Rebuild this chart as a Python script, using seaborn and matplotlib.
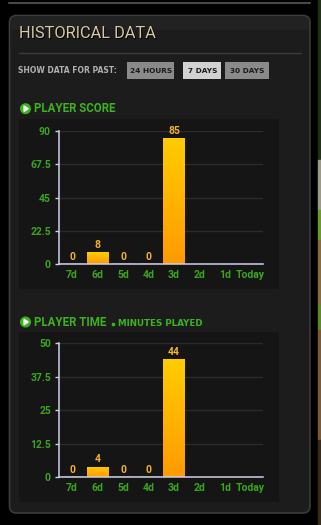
import numpy as np
import pandas as pd
import matplotlib
matplotlib.use("Agg")
import matplotlib.pyplot as plt
from matplotlib.patches import FancyBboxPatch, Rectangle, Circle, Polygon
from matplotlib.colors import LinearSegmentedColormap
import seaborn as sns

# ---- data ----
days = ["7d", "6d", "5d", "4d", "3d", "2d", "1d", "Today"]
player_score = [0, 8, 0, 0, 85, np.nan, np.nan, np.nan]
player_time = [0, 4, 0, 0, 44, np.nan, np.nan, np.nan]
score_ticks = [0, 22.5, 45, 67.5, 90]
time_ticks = [0, 12.5, 25, 37.5, 50]
range_buttons = ["24 HOURS", "7 DAYS", "30 DAYS"]
selected_button = "7 DAYS"

sns.set_theme(style="dark")
plt.rcParams['font.family'] = ['Roboto', 'DejaVu Sans']
DJ = ['DejaVu Sans']

W, H = 321, 525
fig = plt.figure(figsize=(W / 100, H / 100), dpi=100, facecolor="black")

# ---- background / decoration axes in pixel coords ----
bg = fig.add_axes([0, 0, 1, 1], zorder=-5)
bg.set_xlim(0, W)
bg.set_ylim(H, 0)
bg.axis("off")
bg.set_facecolor("black")
bg.add_patch(Rectangle((0, 0), W, H, color="black", zorder=0))

# right background strip
strip = [(0, 160, "#1e3314"), (160, 210, "#9c9a86"), (210, 240, "#6a9a2c"),
         (240, 305, "#8a6a3c"), (305, 330, "#5c8a2a"), (330, 440, "#7a5a32"),
         (440, 525, "#3a2a18")]
for y0, y1, c in strip:
    bg.add_patch(Rectangle((318, y0), 3, y1 - y0, color=c, zorder=1))

# top line
bg.plot([9, 310], [3.3, 3.3], color="#484848", lw=1.5, zorder=1)

# panel
bg.add_patch(FancyBboxPatch((9.5, 15.5), 300.5, 497.5,
                            boxstyle="round,pad=0,rounding_size=7",
                            facecolor="#1c1c1c", edgecolor="#3c3c3c", lw=1.2, zorder=1))
bg.add_patch(FancyBboxPatch((10.5, 16.5), 298.5, 34,
                            boxstyle="round,pad=0,rounding_size=6",
                            facecolor="#222222", edgecolor="none", zorder=1.5))
bg.add_patch(Rectangle((10.5, 30), 298.5, 21, facecolor="#1c1c1c", edgecolor="none", zorder=1.6))

# header
bg.text(20, 34.8, "HISTORICAL DATA", fontsize=11.8, color="black",
        va="center", ha="left", zorder=2)
bg.text(19, 33.8, "HISTORICAL DATA", fontsize=11.8, color="#d9c8a4",
        va="center", ha="left", zorder=3)
bg.plot([19, 301], [52.5, 52.5], color="#3c3c3c", lw=1, zorder=2)

bg.text(18, 70.5, "SHOW DATA FOR PAST:", fontsize=5.5, fontweight="bold",
        family=DJ, color="#b0b0b0", va="center", ha="left", zorder=3)
btn_boxes = [(127, 174), (183, 221), (225, 269)]
for label, (x0, x1) in zip(range_buttons, btn_boxes):
    fc = "#d2d2d2" if label == selected_button else "#8a8a8a"
    bg.add_patch(Rectangle((x0, 62.3), x1 - x0, 16.7, facecolor=fc, edgecolor="none", zorder=2))
    bg.text((x0 + x1) / 2 + 0.5, 71, label, fontsize=5.3, fontweight="bold", family=DJ,
            color="#1a1a1a", va="center", ha="center", zorder=3)

GREEN = "#3db31f"


def section_title(y, title, sub=None):
    bg.add_patch(Circle((25.5, y), 4.8, color=GREEN, zorder=3))
    bg.add_patch(Polygon([[24, y - 2.8], [24, y + 2.8], [28.3, y]], closed=True,
                         color="#f0f0f0", zorder=4))
    bg.text(34.5, y + 0.3, title, fontsize=8.3, fontweight="bold", color=GREEN,
            va="center", ha="left", zorder=3)
    if sub:
        bg.add_patch(Rectangle((111.5, y + 0.5), 2.5, 2.5, color=GREEN, zorder=3))
        bg.text(118.5, y + 1.2, sub, fontsize=6.3, fontweight="bold", family=DJ,
                color=GREEN, va="center", ha="left", zorder=3)


section_title(108.7, "PLAYER SCORE")
section_title(322, "PLAYER TIME", "MINUTES PLAYED")

# chart boxes
bg.add_patch(Rectangle((19, 119), 260, 170, facecolor="#151515", edgecolor="none", zorder=2))
bg.add_patch(Rectangle((19, 332), 260, 170, facecolor="#151515", edgecolor="none", zorder=2))

cmap = LinearSegmentedColormap.from_list("bar", ["#ff9a00", "#ffcc00"])
AXC = "#cfd0ea"
TICKC = "#3aa61e"
LABC = "#f2b22e"


def draw_chart(rect_px, values, yticks):
    left, top, right, bottom = rect_px
    ax = fig.add_axes([left / W, 1 - bottom / H, (right - left) / W, (bottom - top) / H])
    ax.patch.set_alpha(0)
    df = pd.DataFrame({"day": days, "value": values})
    sns.barplot(data=df, x="day", y="value", order=days, ax=ax, width=0.86,
                errorbar=None, color="#ffb400", saturation=1)
    ax.set_xlim(-0.5, len(days) - 0.5)
    ax.set_ylim(yticks[0], yticks[-1])
    # gradient bars
    for p in list(ax.patches):
        h = p.get_height()
        if not np.isfinite(h) or h <= 0:
            continue
        x0 = p.get_x()
        w = p.get_width()
        grad = np.linspace(1, 0, 64).reshape(-1, 1)
        im = ax.imshow(grad, cmap=cmap, extent=(x0, x0 + w, 0, h), aspect="auto",
                       origin="upper", zorder=3)
        im.set_clip_path(p)
        p.set_facecolor("none")
        p.set_edgecolor("none")
    for p in ax.patches:
        h = p.get_height()
        if not np.isfinite(h):
            continue
        ax.annotate(f"{h:g}", (p.get_x() + p.get_width() / 2, h), xytext=(0, 1.5),
                    textcoords="offset points", ha="center", va="bottom",
                    fontsize=7.5, fontweight="bold", color=LABC, zorder=5,
                    annotation_clip=False)
    ax.set_xlim(-0.5, len(days) - 0.5)
    ax.set_ylim(yticks[0], yticks[-1])
    ax.set_yticks(yticks)
    ax.set_yticklabels([f"{v:g}" for v in yticks])
    ax.set_xticks(range(len(days)))
    ax.set_xticklabels(days)
    ax.set_xticks(np.arange(-0.5, len(days)), minor=True)
    ax.set_xlabel("")
    ax.set_ylabel("")
    ax.grid(False)
    for v in yticks[1:]:
        ax.axhline(v, color="#2b2b2b", lw=1, zorder=1)
    for s in ["top", "right"]:
        ax.spines[s].set_visible(False)
    for s in ["left", "bottom"]:
        ax.spines[s].set_visible(True)
        ax.spines[s].set_color(AXC)
        ax.spines[s].set_linewidth(1.1)
        ax.spines[s].set_zorder(6)
    ax.tick_params(axis="x", which="major", length=0, pad=4.0, labelsize=7.5,
                   labelcolor=TICKC)
    ax.tick_params(axis="x", which="minor", length=3, width=1, color=AXC, direction="out")
    ax.tick_params(axis="y", length=3, width=1, color=AXC, direction="out", pad=3,
                   labelsize=7.5, labelcolor=TICKC, left=True)
    for lab in ax.get_xticklabels() + ax.get_yticklabels():
        lab.set_fontweight("bold")
    return ax


draw_chart((59.3, 130.7, 263.3, 264.3), player_score, score_ticks)
draw_chart((59.3, 343.3, 263.3, 477.3), player_time, time_ticks)

fig.savefig("out.png", dpi=100, facecolor="black")
